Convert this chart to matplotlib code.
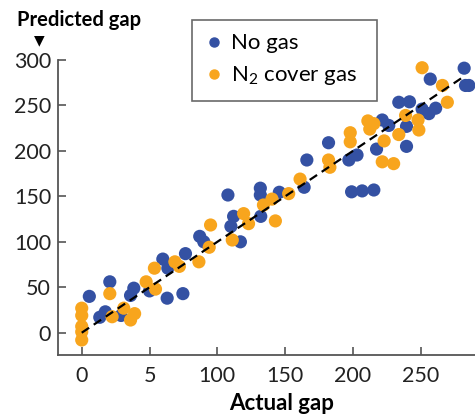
import matplotlib
matplotlib.use('Agg')
import matplotlib.pyplot as plt
from matplotlib.lines import Line2D

# values
no_gas_x = [5.6, 13.3, 17.4, 20.7, 29, 36, 38.4, 50, 59.8, 63.5, 63, 74.6, 76.5,
            87, 90, 107.8, 112, 110, 117, 131.7, 131.7, 132, 145.7, 164, 166,
            182, 197, 199, 206.8, 215.4, 203, 217.4, 221.6, 226.4, 239.5, 239.5,
            233.8, 241.7, 251, 256, 261, 257, 282, 283, 285.5]
no_gas_y = [40, 17, 23, 56, 19, 41, 49, 46, 81, 71, 38, 43, 87,
            106, 100, 151.5, 128, 117, 100, 159, 151.5, 128, 154.5, 160, 190,
            209, 190, 155, 156, 157, 195.5, 202, 234, 228, 205, 227,
            253.5, 254, 246, 241, 247, 279, 291, 272, 272]

n2_x = [0, 0, 0, 0, 0, 20.7, 22.4, 31, 36, 39, 47.5, 54.4, 53.6, 68.7, 72,
        86.4, 95, 94, 111, 119.4, 123, 134, 140.3, 142.8, 152.6, 161, 182,
        183, 198, 198, 211, 215.4, 212.4, 223, 221.6, 230, 233.8, 238.8, 248,
        248.6, 251, 266, 269.6]
n2_y = [27, 19, 7, 1, -8, 43, 17.6, 27, 14, 21, 56, 48, 71, 78, 73,
        78, 118.5, 94, 102, 131, 120, 140.5, 147, 123, 153, 169, 190,
        182, 220, 210, 233, 230, 224, 211, 188, 186, 218, 239, 234,
        223, 291.5, 272, 253.5]

fit_x = [0, 282]
fit_y = [0, 282]

x_ticks = [0, 50, 100, 150, 200, 250]
x_labels = ['0', '5', '100', '150', '200', '250']
y_ticks = [0, 50, 100, 150, 200, 250, 300]

blue = '#3451a3'
orange = '#f8a51d'
grey = '#555555'

plt.rcParams['font.family'] = ['Lato', 'DejaVu Sans']
plt.rcParams['mathtext.fontset'] = 'custom'
plt.rcParams['mathtext.rm'] = 'Lato'
plt.rcParams['mathtext.it'] = 'Lato:italic'

fig = plt.figure(figsize=(4.75, 4.18), dpi=100)
ax = fig.add_axes([58/475, 63/418, 1 - 58/475, (355 - 60)/418])

ax.scatter(no_gas_x, no_gas_y, s=90, color=blue, edgecolors='none', zorder=2)
ax.scatter(n2_x, n2_y, s=90, color=orange, edgecolors='none', zorder=2)
ax.plot(fit_x, fit_y, color='black', lw=1.6, dashes=(4, 2.5), zorder=3)

ax.set_xlim(-17.5, 290)
ax.set_ylim(-24.5, 300)
ax.set_xticks(x_ticks)
ax.set_xticklabels(x_labels)
ax.set_yticks(y_ticks)

for s in ['top', 'right']:
    ax.spines[s].set_visible(False)
for s in ['left', 'bottom']:
    ax.spines[s].set_color(grey)
    ax.spines[s].set_linewidth(1.3)
ax.tick_params(direction='in', length=6, width=1.2, color=grey,
               labelsize=15.5, labelcolor='#222222', pad=5)
ax.tick_params(axis='x', pad=8)

fig.text(17/475, 1 - 26/418, 'Predicted gap', fontsize=14.5, fontweight='bold',
         ha='left', va='baseline')
fig.text(39/475, 1 - 40/418, '\u25bc', fontsize=10, family='DejaVu Sans',
         ha='center', va='center')
fig.text(282/475, 1 - 404/418, 'Actual gap', fontsize=16, fontweight='bold',
         ha='center', va='center')

handles = [Line2D([], [], marker='o', ls='none', color=blue, markersize=6.5),
           Line2D([], [], marker='o', ls='none', color=orange, markersize=6.5)]
leg = ax.legend(handles, ['No gas', 'N$_2$ cover gas'], loc='upper left',
                bbox_to_anchor=(192/475, 1 - 101/418, 185/475, 81/418),
                bbox_transform=fig.transFigure, mode='expand',
                fontsize=16, frameon=True, fancybox=False, borderpad=0.6,
                handletextpad=0.35, handlelength=0.8, labelspacing=0.5,
                borderaxespad=0)
leg.get_frame().set_edgecolor('#444444')
leg.get_frame().set_linewidth(1.2)

fig.savefig('out.png', dpi=100)
